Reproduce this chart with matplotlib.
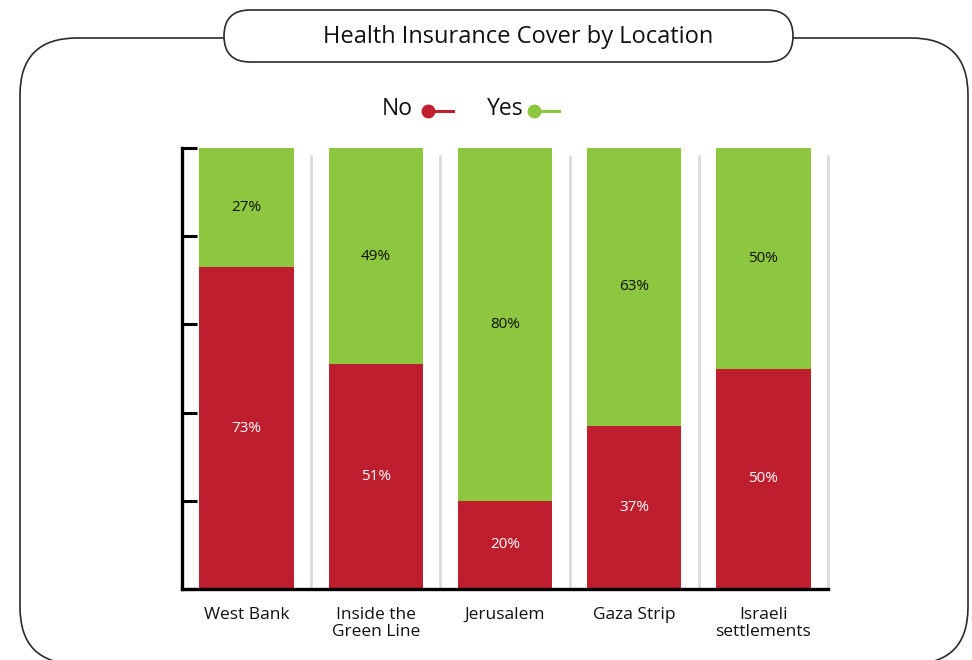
import matplotlib.pyplot as plt
from matplotlib.patches import FancyBboxPatch
from matplotlib.lines import Line2D

locations = ['West Bank', 'Inside the\nGreen Line', 'Jerusalem', 'Gaza Strip', 'Israeli\nsettlements']
no_pct = [73, 51, 20, 37, 50]
yes_pct = [27, 49, 80, 63, 50]

RED = '#be1e2d'
GREEN = '#8dc63f'
FONT = 'Open Sans'

plt.rcParams['font.family'] = [FONT, 'DejaVu Sans']

fig = plt.figure(figsize=(9.72, 6.60), dpi=100)

# background layer in pixel coordinates for frame, title box and legend
bg = fig.add_axes([0, 0, 1, 1], zorder=0)
bg.set_xlim(0, 972)
bg.set_ylim(660, 0)
bg.axis('off')

frame = FancyBboxPatch((20, 38), 948, 626, boxstyle='round,pad=0,rounding_size=57',
                       facecolor='white', edgecolor='#2b2b2b', linewidth=1.2, zorder=1)
bg.add_patch(frame)
title_box = FancyBboxPatch((224, 10), 569, 52, boxstyle='round,pad=0,rounding_size=26',
                           facecolor='white', edgecolor='#2b2b2b', linewidth=1.2, zorder=2)
bg.add_patch(title_box)
bg.text(518, 37, 'Health Insurance Cover by Location', fontsize=17, ha='center', va='center',
        color='#111111', zorder=3)

# legend: label, then dot with a short line trailing right
for label, color, tx, dx in [('No', RED, 382, 428), ('Yes', GREEN, 487, 534)]:
    bg.text(tx, 109, label, fontsize=16.5, ha='left', va='center', color='#111111', zorder=3)
    bg.add_line(Line2D([dx, dx + 25], [111, 111], color=color, lw=2.2, zorder=3))
    bg.add_line(Line2D([dx], [111], marker='o', markersize=9, color=color, zorder=4))

# main chart
ax = fig.add_axes([182 / 972, 71 / 660, 646 / 972, 441 / 660], zorder=2)
ax.patch.set_alpha(0)
x = list(range(len(locations)))
width = 0.73

ax.bar(x, no_pct, width, color=RED, zorder=2)
ax.bar(x, yes_pct, width, bottom=no_pct, color=GREEN, zorder=2)

for i in x:
    ax.text(i, no_pct[i] / 2, f'{no_pct[i]}%', ha='center', va='center',
            fontsize=11, color='white', zorder=3)
    ax.text(i, no_pct[i] + yes_pct[i] / 2, f'{yes_pct[i]}%', ha='center', va='center',
            fontsize=11, color='#111111', zorder=3)

ax.vlines([i + 0.5 for i in x], 0, 98.4, color='#dcdddf', lw=2.2, zorder=1, clip_on=False)

ax.set_xlim(-0.5, len(locations) - 0.5)
ax.set_ylim(0, 100)
ax.set_yticks(range(0, 101, 20))
ax.set_yticklabels([])
ax.tick_params(axis='y', direction='in', length=11, width=2.2, color='black')
ax.set_xticks(x)
ax.set_xticklabels(locations, fontsize=12.5, color='#111111', linespacing=1.05)
ax.tick_params(axis='x', length=0, pad=13)

for side in ['top', 'right']:
    ax.spines[side].set_visible(False)
for side in ['left', 'bottom']:
    ax.spines[side].set_linewidth(2.4)
    ax.spines[side].set_color('black')
    ax.spines[side].set_zorder(4)

plt.savefig('out.png', dpi=100)
plt.close()
